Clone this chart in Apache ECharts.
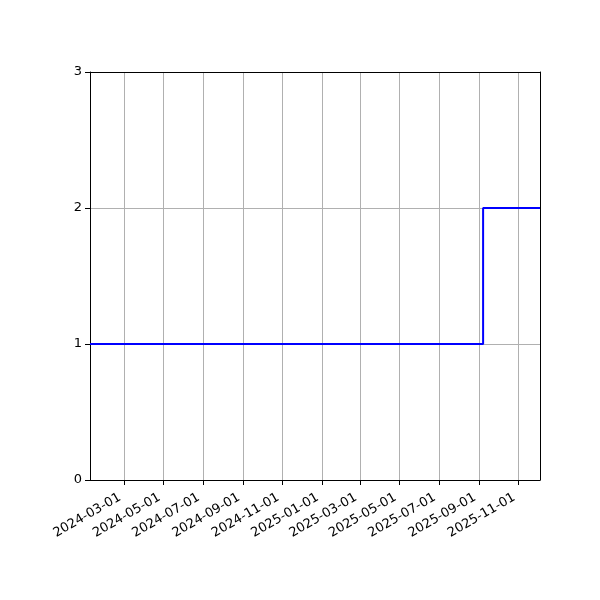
<!DOCTYPE html>
<html>
<head>
<meta charset="utf-8">
<script src="https://cdn.jsdelivr.net/npm/echarts@6/dist/echarts.min.js"></script>
<style>
html,body{margin:0;padding:0;background:#fff;}
#main{width:600px;height:600px;}
</style>
</head>
<body>
<div id="main"></div>
<script>
// data
var dates = ['2024-01-08', '2025-09-07', '2025-12-04'];
var values = [1, 2, 2];
var tickDates = ['2024-03-01', '2024-05-01', '2024-07-01', '2024-09-01', '2024-11-01',
	'2025-01-01', '2025-03-01', '2025-05-01', '2025-07-01', '2025-09-01', '2025-11-01'];
var yTicks = [0, 1, 2, 3];

function ts(s) {
	var p = s.split('-');
	return Date.UTC(+p[0], +p[1] - 1, +p[2]);
}
function fmt(v) {
	var d = new Date(v);
	var m = d.getUTCMonth() + 1, day = d.getUTCDate();
	return d.getUTCFullYear() + '-' + (m < 10 ? '0' + m : m) + '-' + (day < 10 ? '0' + day : day);
}

var myChart = echarts.init(document.getElementById('main'));
var seriesData = [];
for (var i = 0; i < dates.length; i++) {
	seriesData.push([ts(dates[i]), values[i]]);
}
var tickVals = tickDates.map(ts);
var xMin = ts(dates[0]), xMax = ts(dates[dates.length - 1]);

// frame lines on top / right, drawn as bare axes
var frameAxis = {
	axisLine : { show : true, onZero : false, lineStyle : { color : '#000', width : 1 } },
	axisTick : { show : false },
	axisLabel : { show : false },
	splitLine : { show : false }
};

var option = {
	animation : false,
	backgroundColor : '#fff',
	textStyle : {
		fontFamily : 'DejaVu Sans'
	},
	grid : {
		left : 90,
		right : 60,
		top : 72,
		bottom : 120
	},
	xAxis : [ {
		type : 'value',
		scale : true,
		min : xMin,
		max : xMax,
		z : 3,
		axisLine : {
			onZero : false,
			lineStyle : { color : '#000', width : 1 }
		},
		axisTick : {
			show : true,
			length : 5,
			customValues : tickVals,
			lineStyle : { color : '#000', width : 1 }
		},
		axisLabel : {
			customValues : tickVals,
			rotate : 30,
			color : '#000',
			fontSize : 13,
			margin : 14,
			padding : [0, 5, 0, 0],
			formatter : function(v) { return fmt(v); }
		},
		splitLine : {
			show : true,
			lineStyle : { color : '#b0b0b0', width : 1 }
		}
	}, echarts.util.merge({
		type : 'value',
		position : 'top',
		min : xMin,
		max : xMax,
		z : 3
	}, frameAxis, true) ],
	yAxis : [ {
		type : 'value',
		min : 0,
		max : 3,
		interval : 1,
		z : 3,
		axisLine : {
			show : true,
			lineStyle : { color : '#000', width : 1 }
		},
		axisTick : {
			show : true,
			length : 5,
			lineStyle : { color : '#000', width : 1 }
		},
		axisLabel : {
			color : '#000',
			fontSize : 13,
			margin : 8,
			formatter : function(v) { return yTicks.indexOf(v) >= 0 ? String(v) : ''; }
		},
		splitLine : {
			show : true,
			lineStyle : { color : '#b0b0b0', width : 1 }
		}
	}, echarts.util.merge({
		type : 'value',
		position : 'right',
		min : 0,
		max : 3,
		z : 3
	}, frameAxis, true) ],
	series : [ {
		type : 'line',
		step : 'end',
		data : seriesData,
		symbol : 'none',
		lineStyle : { color : '#0000ff', width : 2 },
		z : 5
	} ]
};
myChart.setOption(option);
</script>
</body>
</html>
